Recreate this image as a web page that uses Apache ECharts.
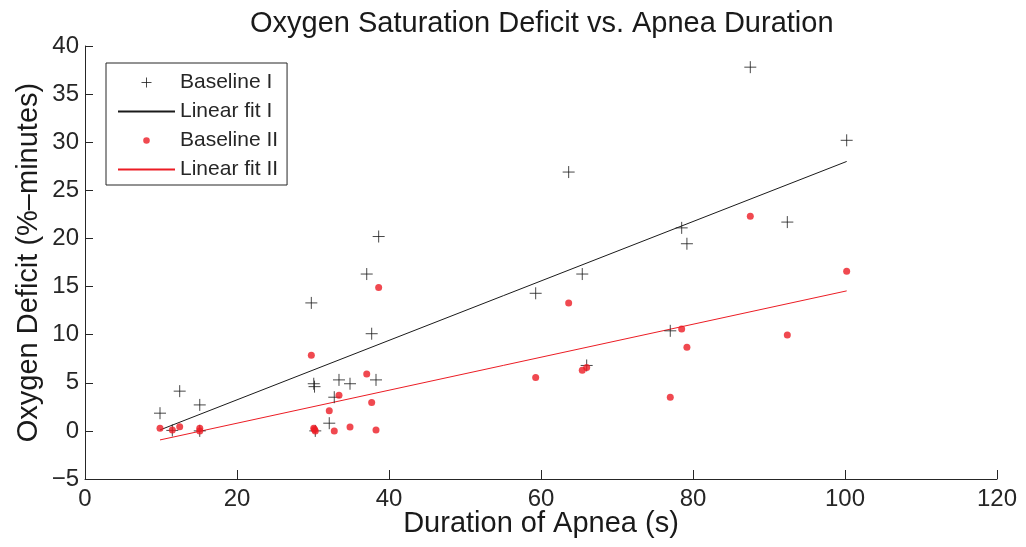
<!DOCTYPE html>
<html><head><meta charset="utf-8">
<script src="https://cdn.jsdelivr.net/npm/echarts@6/dist/echarts.min.js"></script>
<style>html,body{margin:0;padding:0;background:#fff}#c{width:1026px;height:547px}</style>
</head><body><div id="c"></div>
<script>
// Apnea duration (s)
const duration   = [9.87, 11.49, 12.46, 15.1, 15.1, 29.78, 30.1, 30.2, 30.3, 32.14, 32.8, 33.42, 34.87, 37.07, 37.72, 38.29, 38.64, 59.3, 63.64, 65.43, 66.01, 77.01, 78.51, 79.2, 87.54, 92.41, 100.22];
// Oxygen deficit (%-minutes)
const baselineI  = [1.84, 0.05, 4.13, 2.7, 0.0, 13.3, 4.9, 4.6, 0.0, 0.8, 3.5, 5.3, 4.9, 16.3, 10.1, 5.3, 20.2, 14.3, 26.9, 16.3, 6.8, 10.4, 21.1, 19.45, 37.8, 21.7, 30.2];
const baselineII = [0.28, 0.1, 0.42, 0.28, 0.0, 7.85, 0.28, 0.15, 0.0, 2.1, 0.0, 3.7, 0.4, 5.9, 2.95, 0.1, 14.9, 5.55, 13.3, 6.3, 6.6, 3.5, 10.6, 8.7, 22.3, 9.97, 16.6];
// Linear fit end points
const fitIx  = [9.87, 100.22];
const fitIy  = [0.1, 28.0];
const fitIIx = [9.87, 100.22];
const fitIIy = [-0.94, 14.55];
// Axis ranges
const xRange = [0, 120, 20];
const yRange = [-5, 40, 5];

const FONT = "'Liberation Sans', Arial, Helvetica, sans-serif";
const INK = '#262626';
const RED = '#ec1c24';

const zip = (a, b) => a.map((v, i) => [v, b[i]]);

const chart = echarts.init(document.getElementById('c'), null, {renderer: 'canvas'});
chart.setOption({
  animation: false,
  backgroundColor: '#fff',
  title: {
    text: 'Oxygen Saturation Deficit vs. Apnea Duration',
    left: 245, top: 4,
    padding: [5, 5, 5, 5],
    textStyle: {fontFamily: FONT, fontSize: 29, fontWeight: 'normal', color: '#1a1a1a'}
  },
  legend: {
    orient: 'vertical', left: 106, top: 63,
    itemWidth: 57, itemHeight: 10, itemGap: 8, itemTextGap: 8,
    padding: [9, 9, 5, 11],
    borderColor: INK, borderWidth: 1, backgroundColor: '#fff',
    textStyle: {fontFamily: FONT, fontSize: 21, color: INK},
    data: [
      {name: 'Baseline I', itemStyle: {borderWidth: 1}},
      {name: 'Linear fit I', itemStyle: {opacity: 0}},
      {name: 'Baseline II', icon: 'path://M0,0L0,0Z M10,10L10,10Z M5,1.7A3.3,3.3,0,1,1,5,8.3A3.3,3.3,0,1,1,5,1.7Z'},
      {name: 'Linear fit II', itemStyle: {opacity: 0}}
    ]
  },
  grid: {left: 85, right: 29, top: 46, bottom: 68, containLabel: false, outerBoundsMode: 'none'},
  xAxis: {
    type: 'value', min: xRange[0], max: xRange[1], interval: xRange[2],
    name: 'Duration of Apnea (s)', nameLocation: 'middle', nameGap: 30, nameMoveOverlap: false,
    nameTextStyle: {fontFamily: FONT, fontSize: 29, color: '#1a1a1a'},
    axisLine: {show: true, onZero: false, lineStyle: {color: INK, width: 1}},
    axisTick: {show: true, inside: true, length: 9, lineStyle: {color: INK}},
    axisLabel: {fontFamily: FONT, fontSize: 24, color: INK, margin: 8},
    splitLine: {show: false}
  },
  yAxis: {
    type: 'value', min: yRange[0], max: yRange[1], interval: yRange[2],
    name: 'Oxygen Deficit (%\u2013minutes)', nameLocation: 'middle', nameGap: 42, nameMoveOverlap: false,
    nameTextStyle: {fontFamily: FONT, fontSize: 29, color: '#1a1a1a'},
    axisLine: {show: true, onZero: false, lineStyle: {color: INK, width: 1}},
    axisTick: {show: true, inside: true, length: 8, lineStyle: {color: INK}},
    axisLabel: {fontFamily: FONT, fontSize: 24, color: INK, margin: 6,
      formatter: v => String(v).replace('-', '\u2212')},
    splitLine: {show: false}
  },
  series: [
    {
      name: 'Baseline I', type: 'scatter',
      data: zip(duration, baselineI),
      symbol: 'path://M0,6H12M6,0V12', symbolSize: 12,
      itemStyle: {color: 'transparent', borderColor: '#1a1a1a', borderWidth: 1},
      z: 3
    },
    {
      name: 'Linear fit I', type: 'line',
      data: zip(fitIx, fitIy),
      symbol: 'none', color: '#1a1a1a',
      lineStyle: {color: '#1a1a1a', width: 1},
      z: 2
    },
    {
      name: 'Baseline II', type: 'scatter',
      data: zip(duration, baselineII),
      symbol: 'circle', symbolSize: 7,
      itemStyle: {color: RED},
      z: 3
    },
    {
      name: 'Linear fit II', type: 'line',
      data: zip(fitIIx, fitIIy),
      symbol: 'none', color: RED,
      lineStyle: {color: RED, width: 1},
      z: 2
    }
  ]
});
</script>
</body></html>
